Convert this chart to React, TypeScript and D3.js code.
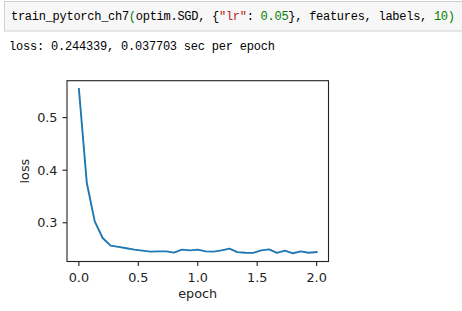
import React from "react";
import * as d3 from "d3";

const lossValues = [
  0.5545, 0.3755, 0.3027, 0.2711, 0.2565, 0.2541, 0.2515, 0.249, 0.247, 0.2452,
  0.2457, 0.2457, 0.2433, 0.249, 0.2476, 0.249, 0.2457, 0.2452, 0.2476, 0.2508,
  0.2443, 0.243, 0.2427, 0.2476, 0.2495, 0.2427, 0.247, 0.242, 0.2457, 0.243,
  0.2443,
];
const numEpochs = 2;
const xTicks = [0.0, 0.5, 1.0, 1.5, 2.0];
const yTicks = [0.3, 0.4, 0.5];

const W = 462;
const H = 311;
const L = 67;
const R = 328.5;
const T = 80.7;
const B = 261.5;

export default function App() {
  const epochs = lossValues.map((_, i) => (i * numEpochs) / (lossValues.length - 1));
  const x = d3.scaleLinear().domain([-0.1 * numEpochs / 2, numEpochs * 1.05]).range([L, R]);
  const ymin = d3.min(lossValues)!;
  const ymax = d3.max(lossValues)!;
  const m = (ymax - ymin) * 0.05;
  const y = d3.scaleLinear().domain([ymin - m, ymax + m]).range([B, T]);
  const line = d3
    .line<number>()
    .x((_, i) => x(epochs[i]))
    .y((d) => y(d));
  const font = "DejaVu Sans";
  const fs = 12.8;
  const mono = "'Liberation Mono', 'DejaVu Sans Mono', monospace";
  return (
    <svg
      width={W}
      height={H}
      style={{ position: "absolute", left: 0, top: 0, background: "#fff" }}
    >
      <rect x={4.5} y={1.5} width={470} height={29.5} fill="#f7f7f7" stroke="#cfcfcf" strokeWidth={1} />
      <text x={11} y={20} fontFamily={mono} fontSize={12} textLength={444} lengthAdjust="spacing" fill="#000">
        <tspan>train_pytorch_ch7</tspan>
        <tspan fill="#008000">(</tspan>
        <tspan>optim.SGD, {"{"}</tspan>
        <tspan fill="#BA2121">″lr″</tspan>
        <tspan>: </tspan>
        <tspan fill="#008000">0.05</tspan>
        <tspan>{"}"}, features, labels, </tspan>
        <tspan fill="#008000">10)</tspan>
      </text>
      <text x={9} y={50} fontFamily={mono} fontSize={12} textLength={266} lengthAdjust="spacing" fill="#000">
        loss: 0.244339, 0.037703 sec per epoch
      </text>

      <path d={line(lossValues) || ""} fill="none" stroke="#1f77b4" strokeWidth={1.9} strokeLinejoin="round" strokeLinecap="square" />

      <rect x={L} y={T} width={R - L} height={B - T} fill="none" stroke="#222" strokeWidth={1.1} />

      {xTicks.map((t) => (
        <g key={"x" + t}>
          <line x1={x(t)} x2={x(t)} y1={B} y2={B + 4.5} stroke="#222" strokeWidth={1.1} />
          <text x={x(t)} y={281.5} textAnchor="middle" fontFamily={font} fontSize={fs} fill="#222">
            {t.toFixed(1)}
          </text>
        </g>
      ))}
      {yTicks.map((t) => (
        <g key={"y" + t}>
          <line x1={L - 4.5} x2={L} y1={y(t)} y2={y(t)} stroke="#222" strokeWidth={1.1} />
          <text x={L - 9.5} y={y(t)} dy="0.36em" textAnchor="end" fontFamily={font} fontSize={fs} fill="#222">
            {t.toFixed(1)}
          </text>
        </g>
      ))}
      <text x={(L + R) / 2} y={297.5} textAnchor="middle" fontFamily={font} fontSize={fs} fill="#222">
        epoch
      </text>
      <text
        transform={`translate(29.3, ${(T + B) / 2}) rotate(-90)`}
        textAnchor="middle"
        fontFamily={font}
        fontSize={fs}
        fill="#222"
      >
        loss
      </text>
    </svg>
  );
}
